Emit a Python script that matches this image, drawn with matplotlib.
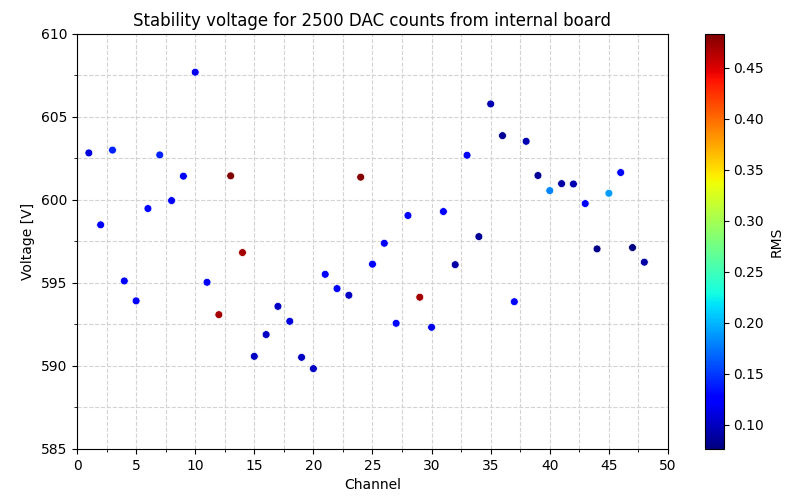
import matplotlib
matplotlib.use('Agg')
import matplotlib.pyplot as plt
from matplotlib.ticker import MultipleLocator

channels = list(range(1, 49))
voltage = [602.83, 598.5, 603.0, 595.12, 593.92, 599.48, 602.71, 599.96, 601.43, 607.69,
           595.04, 593.09, 601.45, 596.83, 590.58, 591.89, 593.59, 592.69, 590.52, 589.84,
           595.52, 594.66, 594.26, 601.37, 596.13, 597.39, 592.57, 599.06, 594.14, 592.33,
           599.3, 596.1, 602.69, 597.79, 605.78, 603.87, 593.87, 603.53, 601.47, 600.56,
           600.98, 600.96, 599.78, 597.05, 600.4, 601.65, 597.13, 596.25]
rms = [0.11, 0.12, 0.14, 0.12, 0.12, 0.13, 0.14, 0.12, 0.12, 0.115,
       0.12, 0.47, 0.483, 0.47, 0.10, 0.10, 0.10, 0.11, 0.10, 0.10,
       0.125, 0.125, 0.10, 0.48, 0.125, 0.12, 0.13, 0.125, 0.47, 0.115,
       0.125, 0.09, 0.12, 0.085, 0.095, 0.085, 0.13, 0.095, 0.085, 0.18,
       0.09, 0.095, 0.125, 0.08, 0.19, 0.13, 0.076, 0.09]

fig = plt.figure(figsize=(7.99, 4.98), dpi=100)
ax = fig.add_axes([0.0964, 0.0984, 0.7396, 0.8336])
cax = fig.add_axes([0.882, 0.0984, 0.0238, 0.8336])

sc = ax.scatter(channels, voltage, c=rms, cmap='jet', s=32,
                edgecolors='white', linewidths=0.5, zorder=3)

ax.set_xlim(0, 50)
ax.set_ylim(585, 610)
ax.xaxis.set_major_locator(MultipleLocator(5))
ax.xaxis.set_minor_locator(MultipleLocator(2.5))
ax.yaxis.set_major_locator(MultipleLocator(5))
ax.yaxis.set_minor_locator(MultipleLocator(2.5))
ax.grid(True, which='both', linestyle='--', color='lightgray', linewidth=0.8)
ax.set_axisbelow(True)

ax.set_title('Stability voltage for 2500 DAC counts from internal board', fontsize=12)
ax.set_xlabel('Channel')
ax.set_ylabel('Voltage [V]')

cb = fig.colorbar(sc, cax=cax)
cb.set_label('RMS')

fig.savefig('out.png', dpi=100)
